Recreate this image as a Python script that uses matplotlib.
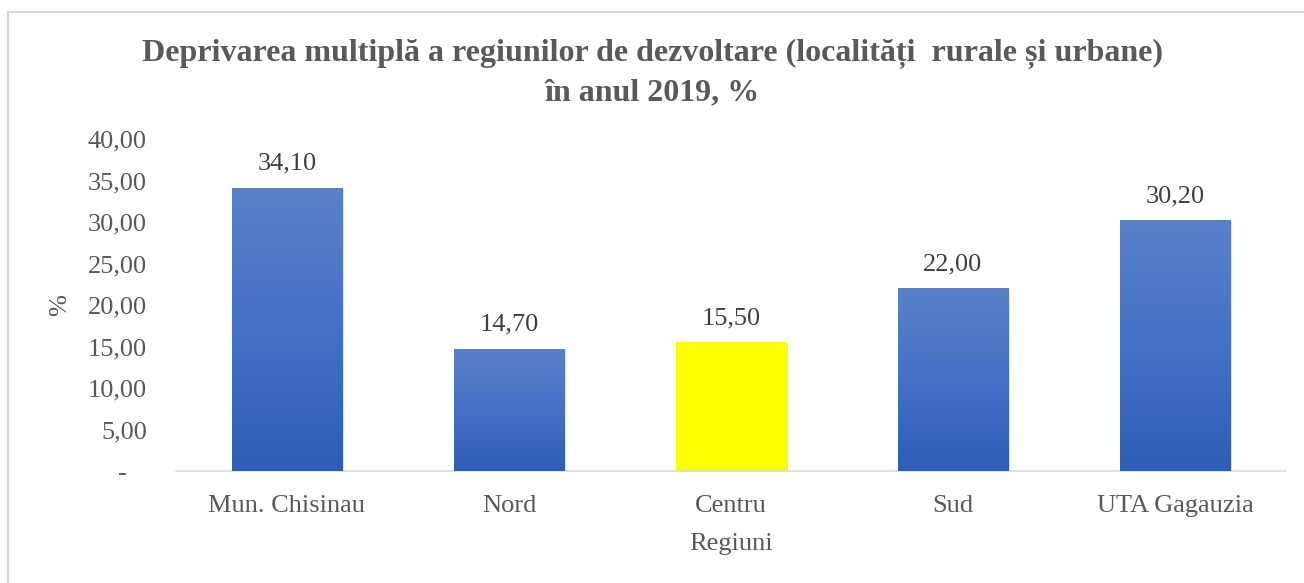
import matplotlib.pyplot as plt
import numpy as np
from matplotlib.colors import LinearSegmentedColormap
from matplotlib.patches import Rectangle
import matplotlib.patheffects as pe

# Data
regions = ["Mun. Chisinau", "Nord", "Centru", "Sud", "UTA Gagauzia"]
values = [34.10, 14.70, 15.50, 22.00, 30.20]
highlight = "Centru"
yticks = [0, 5, 10, 15, 20, 25, 30, 35, 40]

gray = "#595959"
plt.rcParams["font.family"] = ["Liberation Serif", "DejaVu Serif"]

fig = plt.figure(figsize=(13.04, 5.83), dpi=100)
ax = fig.add_axes([176 / 1304, 1 - 471 / 583, (1286 - 176) / 1304, (471 - 139) / 583])

# Outer chart border
fig.patches.append(Rectangle((8 / 1304, -0.01), 1.0, 1 - 12 / 583 + 0.01,
                             transform=fig.transFigure, fill=False,
                             edgecolor="#d9d9d9", linewidth=1.5))

x = np.arange(len(regions))
colors = ["#ffff00" if r == highlight else "none" for r in regions]
bars = ax.bar(x, values, width=0.5, color=colors, edgecolor="none", zorder=2)

# Gradient fill for blue bars
cmap = LinearSegmentedColormap.from_list("blu", ["#2e5db7", "#4471c6", "#5b80ca"])
grad = np.linspace(0, 1, 256).reshape(-1, 1)
for bar, r in zip(bars, regions):
    bar.set_path_effects([pe.SimplePatchShadow(offset=(1, -1), shadow_rgbFace="#b0b0b0", alpha=0.4),
                          pe.Normal()])
    if r == highlight:
        continue
    x0, y0 = bar.get_x(), bar.get_y()
    w, h = bar.get_width(), bar.get_height()
    im = ax.imshow(grad, cmap=cmap, origin="lower", aspect="auto",
                   extent=[x0, x0 + w, y0, y0 + h], zorder=3)
    im.set_clip_path(bar)

for xi, v in zip(x, values):
    ax.text(xi, v + 1.6, f"{v:.2f}".replace(".", ","), ha="center", va="bottom",
            fontsize=19, color="#404040")

ax.set_xlim(-0.5, len(regions) - 0.5)
ax.set_ylim(0, 40)
ax.set_yticks(yticks)
ax.set_yticklabels(["-   " if t == 0 else f"{t:.2f}".replace(".", ",") for t in yticks])
ax.set_xticks(x)
ax.set_xticklabels(regions)
ax.tick_params(axis="both", length=0, labelsize=19, labelcolor=gray)
ax.tick_params(axis="y", pad=21)
ax.tick_params(axis="x", pad=17)

for s in ["top", "right", "left"]:
    ax.spines[s].set_visible(False)
ax.spines["bottom"].set_color("#d9d9d9")
ax.spines["bottom"].set_linewidth(1.2)

ax.set_xlabel("Regiuni", fontsize=19, color=gray, labelpad=12)
ax.set_ylabel("%", fontsize=19, color=gray, labelpad=12)

fig.text(0.5, 1 - 73 / 583, "Deprivarea multiplă a regiunilor de dezvoltare (localități  rurale și urbane)\nîn anul 2019, %",
         ha="center", va="center", fontsize=23, fontweight="bold", color=gray, linespacing=1.45)

fig.savefig("out.png", dpi=100)
